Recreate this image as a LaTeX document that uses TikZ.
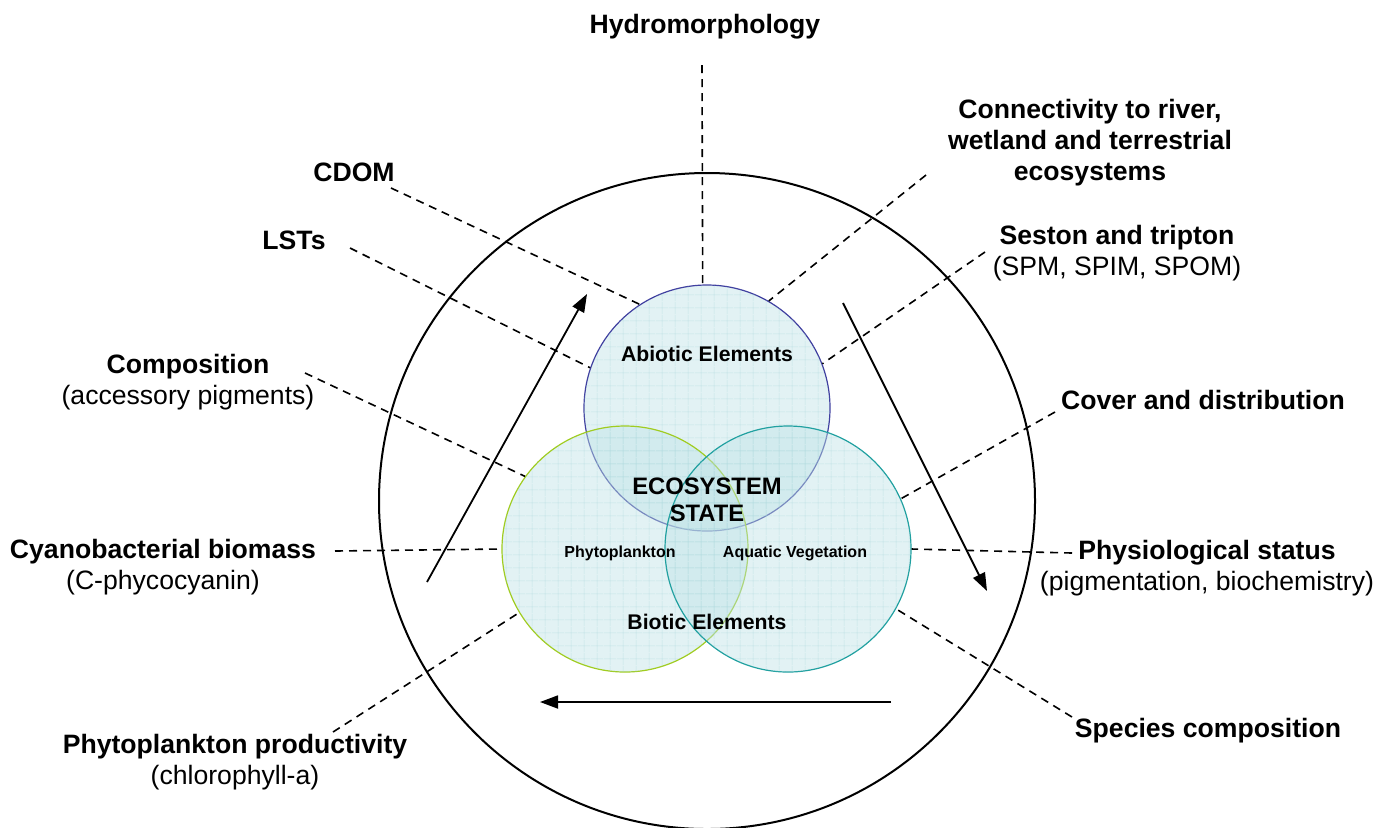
\documentclass[tikz,border=0pt]{standalone}
\usepackage{fontspec}
\setmainfont{Liberation Sans}
\usetikzlibrary{arrows.meta,patterns.meta}

\definecolor{vennfill}{RGB}{190,226,230}
\definecolor{venngrid}{RGB}{160,210,216}
\definecolor{abioticline}{RGB}{64,64,160}
\definecolor{phytoline}{RGB}{160,204,32}
\definecolor{aqualine}{RGB}{32,160,160}

\begin{document}
\begin{tikzpicture}[
  x=0.5pt, y=-0.5pt,
  factor/.style={align=center, inner sep=0pt,
    font=\fontsize{13.3}{15.5}\selectfont\bfseries},
  inlabel/.style={align=center, inner sep=0pt,
    font=\fontsize{10.6}{12}\selectfont\bfseries},
  subset/.style={circle, minimum size=123pt, inner sep=0pt, line width=0.6pt,
    fill=vennfill, fill opacity=0.45,
    postaction={pattern={Hatch[angle=0, distance=6.5pt, line width=0.3pt]},
      pattern color=venngrid}},
  dashline/.style={dash pattern=on 4pt off 3pt, line width=0.8pt},
  arr/.style={-{Triangle[length=9pt,width=6.5pt]}, line width=0.9pt}
]
\useasboundingbox (0,0) rectangle (1380,827);

% outer ring and the three subsets
\node[circle, draw, line width=1pt, minimum size=328pt, inner sep=0pt] (outer) at (707,501) {};
\node[subset, draw=abioticline] (abiotic) at (707,408) {};
\node[subset, draw=phytoline] (phyto) at (625,549) {};
\node[subset, draw=aqualine] (aqua) at (788,549) {};

% labels inside
\node[inlabel] (abiolbl) at (707,354) {Abiotic Elements};
\node[inlabel, font=\fontsize{11.9}{13.5}\selectfont\bfseries] (state) at (707,500) {ECOSYSTEM\\STATE};
\node[inlabel, font=\fontsize{8}{9}\selectfont\bfseries] (phytolbl) at (620,553) {Phytoplankton};
\node[inlabel, font=\fontsize{8}{9}\selectfont\bfseries] (aqualbl) at (795,553) {Aquatic Vegetation};
\node[inlabel] (biolbl) at (707,622) {Biotic Elements};

% labels outside
\node[factor] (hydro) at (705,27) {Hydromorphology};
\node[factor] (cdom) at (354,172) {CDOM};
\node[factor] (lsts) at (294,240) {LSTs};
\node[factor] (conn) at (1090,143) {Connectivity to river,\\wetland and terrestrial\\ecosystems};
\node[factor] (seston) at (1117,253) {Seston and tripton\\\mdseries(SPM, SPIM, SPOM)};
\node[factor] (compo) at (188,382) {Composition\\\mdseries(accessory pigments)};
\node[factor] (cover) at (1203,400) {Cover and distribution};
\node[factor] (cyano) at (163,567) {Cyanobacterial biomass\\\mdseries(C-phycocyanin)};
\node[factor] (physio) at (1207,568) {Physiological status\\\mdseries(pigmentation, biochemistry)};
\node[factor] (prod) at (235,762) {Phytoplankton productivity\\\mdseries(chlorophyll-a)};
\node[factor] (species) at (1208,731) {Species composition};

% free ends of the dashed leaders
\coordinate (hydro-s) at (702,65);
\coordinate (cdom-s) at (391,188);
\coordinate (lsts-s) at (350,248);
\coordinate (conn-s) at (926,175);
\coordinate (seston-s) at (985,252);
\coordinate (compo-s) at (305,373);
\coordinate (cyano-s) at (335,551);
\coordinate (prod-s) at (333,732);
\coordinate (cover-s) at (1055,412);
\coordinate (physio-s) at (1072,553);
\coordinate (species-s) at (1072,717);

\draw[dashline] (hydro-s) -- (abiotic.92.3);
\draw[dashline] (cdom-s) -- (abiotic.123.6);
\draw[dashline] (lsts-s) -- (abiotic.161.6);
\draw[dashline] (conn-s) -- (abiotic.60.1);
\draw[dashline] (seston-s) -- (abiotic.21.2);
\draw[dashline] (compo-s) -- (phyto.144.1);
\draw[dashline] (cyano-s) -- (phyto.west);
\draw[dashline] (prod-s) -- (phyto.211.5);
\draw[dashline] (cover-s) -- (aqua.24.9);
\draw[dashline] (physio-s) -- (aqua.east);
\draw[dashline] (species-s) -- (aqua.-29.4);

% cycle arrows
\coordinate (up-a) at (427,582);
\coordinate (up-b) at (587,294);
\coordinate (dn-a) at (843,303);
\coordinate (dn-b) at (987,591);
\coordinate (lf-a) at (891,702);
\coordinate (lf-b) at (540,702);
\draw[arr] (up-a) -- (up-b);
\draw[arr] (dn-a) -- (dn-b);
\draw[arr] (lf-a) -- (lf-b);

\end{tikzpicture}
\end{document}
